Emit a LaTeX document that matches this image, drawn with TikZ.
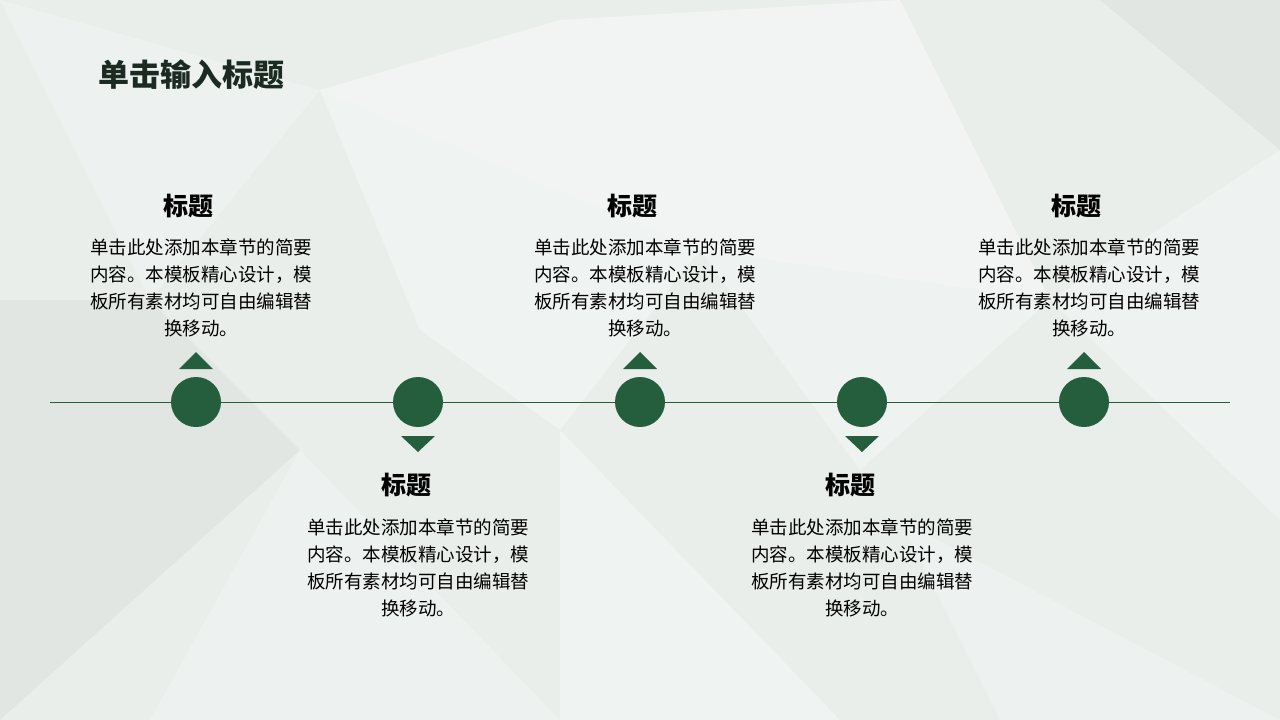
\documentclass[tikz,border=0pt]{standalone}
\usepackage{fontspec}
\newfontfamily\cjk{Noto Sans CJK SC}
\usetikzlibrary{calc}
\definecolor{bg}{HTML}{E9EEEB}
\definecolor{mk}{HTML}{245E3C}
\definecolor{ttl}{HTML}{1C2B22}
\tikzset{
  dot/.style={circle,fill=mk,minimum size=50pt,inner sep=0pt},
  head/.style={font=\cjk\bfseries\fontsize{25}{28}\selectfont,text=black,inner sep=0pt},
  body/.style={font=\cjk\fontsize{18.5}{27}\selectfont,text=black,align=center,inner sep=0pt,anchor=north},
  poly/.style={fill=white,opacity=0.4},
}
\begin{document}
\begin{tikzpicture}[x=1pt,y=-1pt]
\fill[bg] (0,0) rectangle (1280,720);
% faint polygonal background
\fill[poly] (320,90) -- (560,20) -- (700,250) -- cycle;
\fill[poly] (560,20) -- (900,0) -- (700,250) -- cycle;
\fill[poly] (700,250) -- (900,0) -- (1050,300) -- cycle;
\fill[poly,opacity=0.3] (320,90) -- (700,250) -- (560,430) -- (420,330) -- cycle;
\fill[poly,opacity=0.25] (700,250) -- (1050,300) -- (860,470) -- cycle;
\fill[poly,opacity=0.2] (0,0) -- (320,90) -- (150,300) -- cycle;
\fill[poly,opacity=0.25] (1050,300) -- (1280,150) -- (1280,520) -- cycle;
\fill[poly,opacity=0.2] (300,450) -- (560,720) -- (150,720) -- cycle;
\fill[poly,opacity=0.3] (560,430) -- (840,720) -- (560,720) -- cycle;
\fill[poly,opacity=0.2] (900,520) -- (1280,720) -- (1000,720) -- cycle;
\fill[black,opacity=0.03] (0,300) -- (150,300) -- (300,450) -- (0,720) -- cycle;
\fill[black,opacity=0.03] (1100,0) -- (1280,0) -- (1280,150) -- cycle;

\node[font=\cjk\bfseries\fontsize{31}{34}\selectfont,text=ttl,anchor=west,inner sep=0pt] (title) at (98,75) {单击输入标题};

\coordinate (L) at (50,402);
\coordinate (R) at (1230,402);
\draw[mk,line width=0.9pt] (L) -- (R);

\foreach \i/\x in {1/196,2/418,3/640,4/862,5/1084}{
  \node[dot] (c\i) at (\x,402) {};
}
% up triangles
\foreach \i in {1,3,5}{
  \fill[mk] ($(c\i)+(-17,-33)$) -- ($(c\i)+(17,-33)$) -- ($(c\i)+(0,-50)$) -- cycle;
}
% down triangles
\foreach \i in {2,4}{
  \fill[mk] ($(c\i)+(-17,34)$) -- ($(c\i)+(17,34)$) -- ($(c\i)+(0,50)$) -- cycle;
}

% top blocks
\foreach \i/\x in {1/196,3/640,5/1084}{
  \node[head] (h\i) at (\x-8,206) {标题};
  \node[body] (b\i) at (\x+5,238) {单击此处添加本章节的简要\\内容。本模板精心设计，模\\板所有素材均可自由编辑替\\换移动。};
}
% bottom blocks
\foreach \i/\x in {2/418,4/862}{
  \node[head] (h\i) at (\x-12,485) {标题};
  \node[body] (b\i) at (\x,518) {单击此处添加本章节的简要\\内容。本模板精心设计，模\\板所有素材均可自由编辑替\\换移动。};
}
\end{tikzpicture}
\end{document}
